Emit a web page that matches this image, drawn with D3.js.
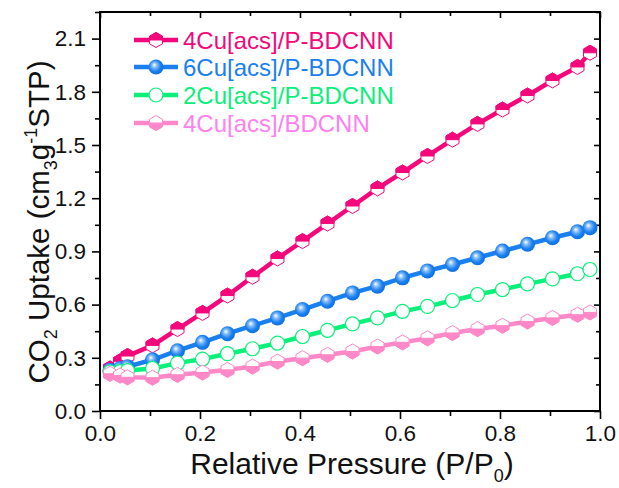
<!DOCTYPE html>
<html>
<head>
<meta charset="utf-8">
<script src="https://cdn.jsdelivr.net/npm/d3@7"></script>
<style>
  body { margin: 0; background: #fff; }
  text { font-family: "Liberation Sans", Arial, sans-serif; }
</style>
</head>
<body>
<svg id="canvas"></svg>
<script>
// relative pressure points (same for every sample)
let pressure = [0.02, 0.04, 0.055, 0.105, 0.155, 0.205, 0.255, 0.305, 0.355, 0.405, 0.455,
                0.505, 0.555, 0.605, 0.655, 0.705, 0.755, 0.805, 0.855, 0.905, 0.955, 0.98]

let cu4P = [0.24, 0.28, 0.31, 0.37, 0.462, 0.553, 0.651, 0.757, 0.86, 0.958, 1.057,
            1.156, 1.255, 1.345, 1.438, 1.53, 1.619, 1.7, 1.779, 1.864, 1.94, 2.02]
let cu6P = [0.23, 0.24, 0.25, 0.289, 0.34, 0.387, 0.436, 0.481, 0.525, 0.572, 0.619,
            0.666, 0.704, 0.751, 0.79, 0.826, 0.864, 0.902, 0.94, 0.977, 1.011, 1.034]
let cu2P = [0.22, 0.222, 0.228, 0.24, 0.27, 0.293, 0.323, 0.351, 0.383, 0.42, 0.455,
            0.491, 0.525, 0.562, 0.59, 0.623, 0.657, 0.685, 0.717, 0.745, 0.774, 0.798]
let cu4 = [0.21, 0.2, 0.19, 0.188, 0.204, 0.217, 0.232, 0.251, 0.279, 0.298, 0.317,
           0.336, 0.364, 0.387, 0.41, 0.44, 0.462, 0.481, 0.505, 0.525, 0.543, 0.556]

let seriesNames = ["4Cu[acs]/P-BDCNN", "6Cu[acs]/P-BDCNN", "2Cu[acs]/P-BDCNN", "4Cu[acs]/BDCNN"]
let seriesValues = [cu4P, cu6P, cu2P, cu4]
let lineColors = ["#f5077c", "#1a80f0", "#0af07a", "#ff88c8"]
let textColors = ["#f5077c", "#1a80f0", "#0af07a", "#ff80ee"]
let markerTypes = ["hexTop", "ball", "open", "hexBottom"]

let xTicks = [0.0, 0.2, 0.4, 0.6, 0.8, 1.0]
let yTicks = [0.0, 0.3, 0.6, 0.9, 1.2, 1.5, 1.8, 2.1]

let width = 619
let height = 488
let plotLeft = 100, plotRight = 600, plotTop = 12, plotBottom = 411

let canvas = d3.select("#canvas")
canvas.attr("width", width).attr("height", height)

let xScale = d3.scaleLinear().domain([0, 1]).range([plotLeft, plotRight])
let yScale = d3.scaleLinear().domain([0, 2.25]).range([plotBottom, plotTop])

// gradient for the shiny blue balls
let defs = canvas.append("defs")
let grad = defs.append("radialGradient").attr("id", "ball")
               .attr("cx", "45%").attr("cy", "45%").attr("r", "60%")
               .attr("fx", "38%").attr("fy", "35%")
grad.append("stop").attr("offset", "0%").attr("stop-color", "#ffffff")
grad.append("stop").attr("offset", "30%").attr("stop-color", "#7fb8f8")
grad.append("stop").attr("offset", "65%").attr("stop-color", "#1a80f0")
grad.append("stop").attr("offset", "100%").attr("stop-color", "#0a6cd8")

// axes (frame with ticks)
let xAxis = d3.axisBottom(xScale).tickValues(xTicks).tickFormat(d3.format(".1f")).tickSize(8).tickPadding(6)
let yAxis = d3.axisLeft(yScale).tickValues(yTicks).tickFormat(d3.format(".1f")).tickSize(8).tickPadding(6)

let minorX = d3.range(0.1, 1, 0.2)
let minorY = d3.range(0.15, 2.25, 0.3)

canvas.append("g").attr("transform", "translate(0," + plotBottom + ")").call(xAxis)
canvas.append("g").attr("transform", "translate(" + plotLeft + ",0)").call(yAxis)
canvas.append("g").attr("transform", "translate(0," + plotBottom + ")")
      .call(d3.axisBottom(xScale).tickValues(minorX).tickSize(5).tickFormat(""))
canvas.append("g").attr("transform", "translate(" + plotLeft + ",0)")
      .call(d3.axisLeft(yScale).tickValues(minorY).tickSize(5).tickFormat(""))
// mirrored inward ticks on top and right
canvas.append("g").attr("transform", "translate(0," + plotTop + ")")
      .call(d3.axisBottom(xScale).tickValues(xTicks).tickSize(6).tickFormat(""))
canvas.append("g").attr("transform", "translate(0," + plotTop + ")")
      .call(d3.axisBottom(xScale).tickValues(minorX).tickSize(4).tickFormat(""))
canvas.append("g").attr("transform", "translate(" + plotRight + ",0)")
      .call(d3.axisLeft(yScale).tickValues(yTicks).tickSize(6).tickFormat(""))
canvas.append("g").attr("transform", "translate(" + plotRight + ",0)")
      .call(d3.axisLeft(yScale).tickValues(minorY).tickSize(4).tickFormat(""))

canvas.selectAll(".domain").remove()
canvas.selectAll(".tick line").attr("stroke", "#000").attr("stroke-width", 1.6)
canvas.selectAll(".tick text").attr("font-size", "22.5px").attr("fill", "#111")
      .style("font-family", "'Liberation Sans', Arial, sans-serif")

canvas.append("rect")
      .attr("x", plotLeft).attr("y", plotTop)
      .attr("width", plotRight - plotLeft).attr("height", plotBottom - plotTop)
      .attr("fill", "none").attr("stroke", "#000").attr("stroke-width", 2)

// hexagon helpers (pointy top)
let R = 7.5
let hx = R * Math.cos(Math.PI / 6)
let hexPath = "M0," + (-R) + "L" + hx + "," + (-R / 2) + "L" + hx + "," + (R / 2) +
              "L0," + R + "L" + (-hx) + "," + (R / 2) + "L" + (-hx) + "," + (-R / 2) + "Z"
let hexTopHalf = "M0," + (-R) + "L" + hx + "," + (-R / 2) + "L" + hx + ",0L" + (-hx) + ",0L" + (-hx) + "," + (-R / 2) + "Z"
let hexBottomHalf = "M" + hx + ",0L" + hx + "," + (R / 2) + "L0," + R + "L" + (-hx) + "," + (R / 2) + "L" + (-hx) + ",0Z"

function drawMarker(g, type, color) {
  if (type == "hexTop" || type == "hexBottom") {
    g.append("path").attr("d", hexPath).attr("fill", "#fff").attr("stroke", color).attr("stroke-width", 1)
    g.append("path").attr("d", type == "hexTop" ? hexTopHalf : hexBottomHalf)
     .attr("fill", color).attr("stroke", color).attr("stroke-width", 1)
  } else if (type == "ball") {
    g.append("circle").attr("r", 7.5).attr("fill", "url(#ball)")
  } else {
    g.append("circle").attr("r", 7).attr("fill", "#fff").attr("stroke", color).attr("stroke-width", 1.2)
  }
}

let line = d3.line().x(d => xScale(d[0])).y(d => yScale(d[1]))

seriesValues.forEach((vals, i) => {
  let pts = pressure.map((p, j) => [p, vals[j]])
  let g = canvas.append("g")
  g.append("path").attr("d", line(pts))
   .attr("fill", "none").attr("stroke", lineColors[i]).attr("stroke-width", 4.5)
  g.selectAll("g.m").data(pts).enter().append("g").attr("class", "m")
   .attr("transform", d => "translate(" + xScale(d[0]) + "," + yScale(d[1]) + ")")
   .each(function () { drawMarker(d3.select(this), markerTypes[i], lineColors[i]) })
})

// legend
let legendY = [40, 67, 95, 123]
seriesNames.forEach((name, i) => {
  let g = canvas.append("g").attr("transform", "translate(0," + legendY[i] + ")")
  g.append("line").attr("x1", 134).attr("x2", 178).attr("y1", 0).attr("y2", 0)
   .attr("stroke", lineColors[i]).attr("stroke-width", 4.5)
  let m = g.append("g").attr("transform", "translate(156,0)")
  drawMarker(m, markerTypes[i], lineColors[i])
  g.append("text").attr("x", 183).attr("y", 8.5).attr("font-size", "24px")
   .attr("fill", textColors[i]).text(name)
})

// axis titles
let xt = canvas.append("text").attr("x", 352).attr("y", 474).attr("text-anchor", "middle")
               .attr("font-size", "30px").attr("fill", "#111")
xt.append("tspan").text("Relative Pressure (P/P")
xt.append("tspan").attr("font-size", "18px").attr("dy", 8).text("0")
xt.append("tspan").attr("dy", -8).text(")")

let yt = canvas.append("text").attr("transform", "translate(49,222) rotate(-90)")
               .attr("text-anchor", "middle").attr("font-size", "29.5px").attr("fill", "#111")
yt.append("tspan").text("CO")
yt.append("tspan").attr("font-size", "18px").attr("dy", 8).text("2")
yt.append("tspan").attr("dy", -8).text(" Uptake (cm")
yt.append("tspan").attr("font-size", "18px").attr("dy", 8).text("3")
yt.append("tspan").attr("dy", -8).text("g")
yt.append("tspan").attr("font-size", "18px").attr("dy", -12).text("-1")
yt.append("tspan").attr("dy", 12).text("STP)")
</script>
</body>
</html>
